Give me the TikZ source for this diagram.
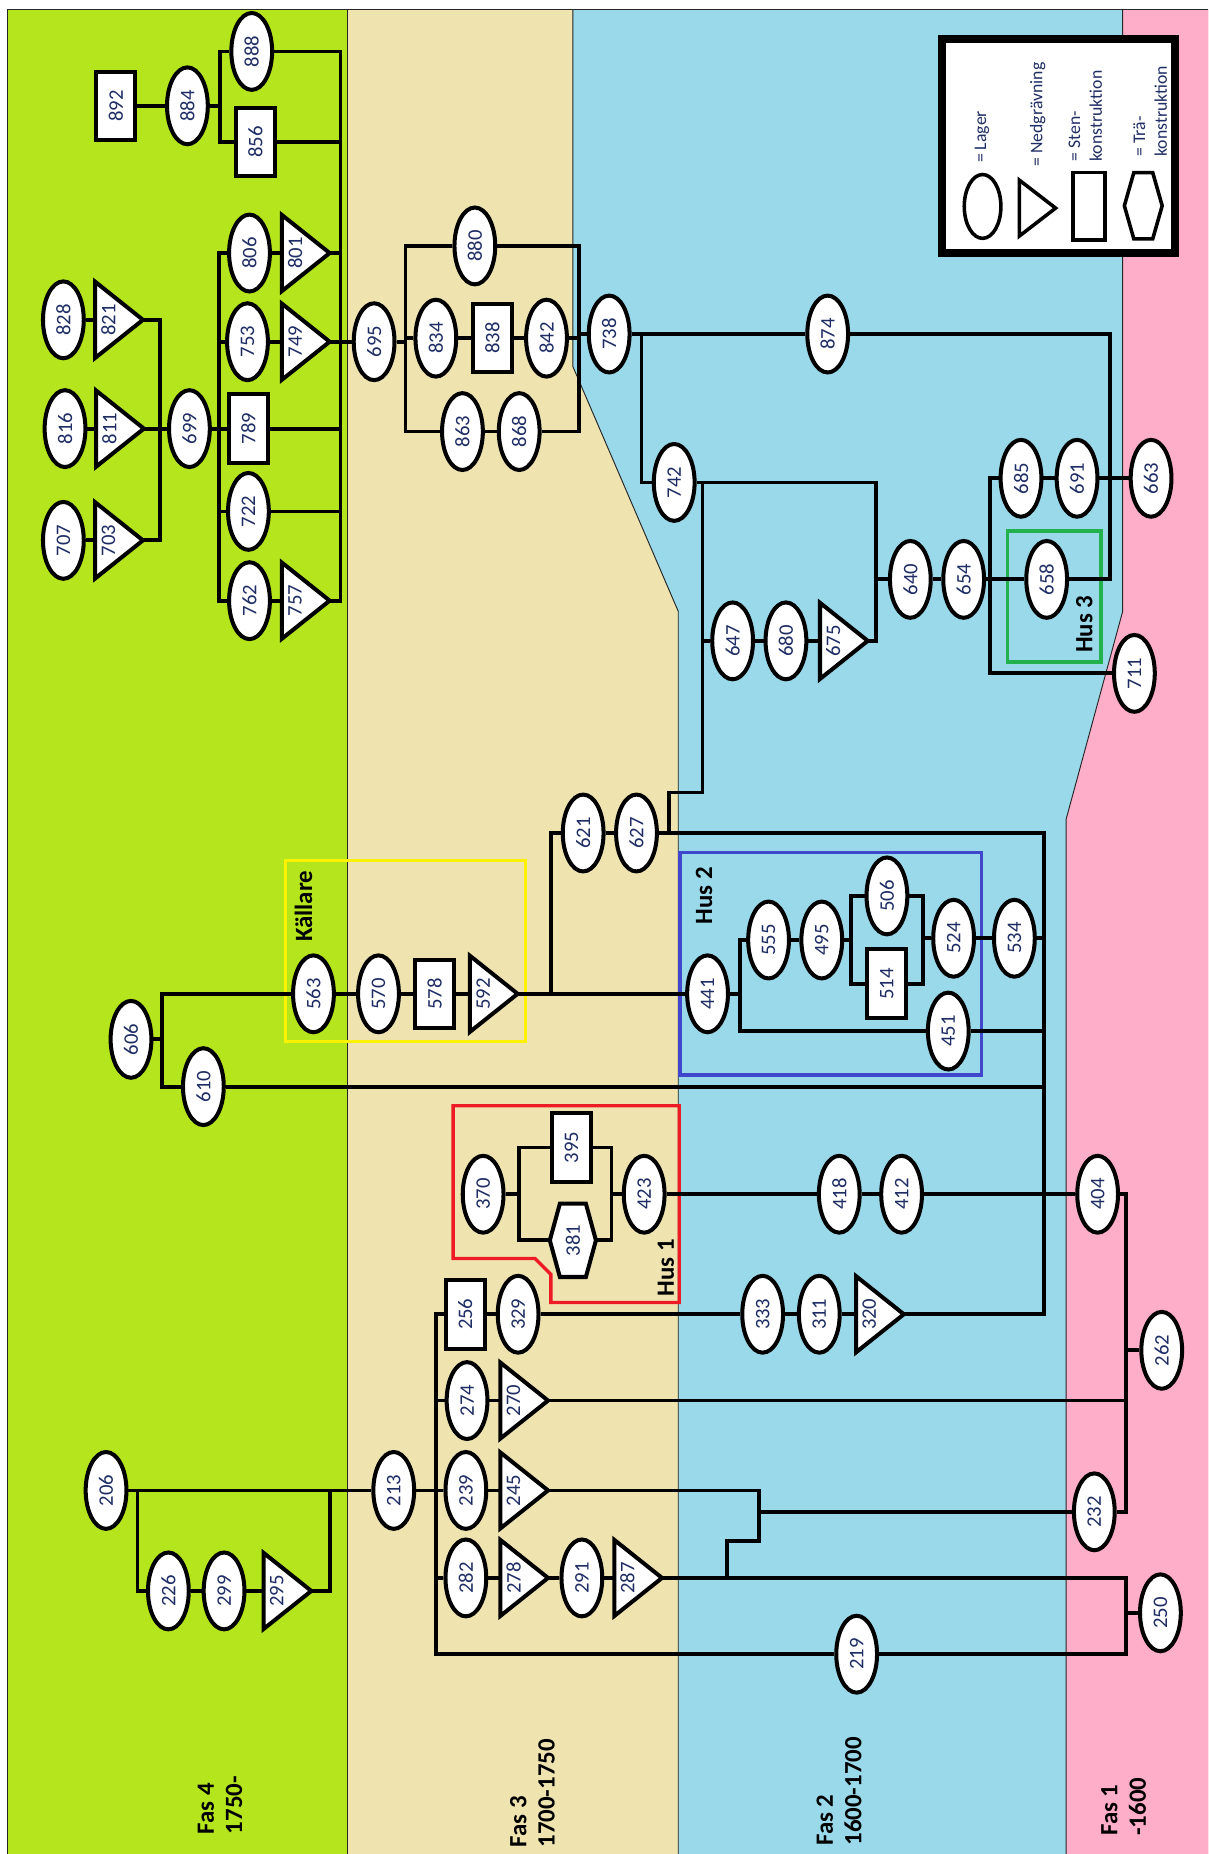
\documentclass[tikz,border=0pt]{standalone}
\usepackage{fontspec}
\usepackage{graphicx}
\setmainfont{Carlito}
\usetikzlibrary{shapes.geometric}

\definecolor{fasfyra}{HTML}{B5E61D}
\definecolor{fastre}{HTML}{EFE4B0}
\definecolor{fastva}{HTML}{99D9EA}
\definecolor{fasett}{HTML}{FFAEC9}
\definecolor{numink}{RGB}{30,45,100}
\definecolor{husgul}{HTML}{FFF200}
\definecolor{husrod}{HTML}{ED1C24}
\definecolor{husbla}{HTML}{3F48CC}
\definecolor{husgron}{HTML}{22B14C}

\pgfdeclarelayer{bands}
\pgfdeclarelayer{links}
\pgfsetlayers{bands,links,main}

\newcommand\numsize{\fontsize{17.5}{20}\selectfont}

\tikzset{
  shapeline/.style={draw=black, line width=3.4pt, fill=white, line join=miter},
  lager/.style={ellipse, shapeline, minimum width=34.5pt, minimum height=65pt,
    inner sep=0pt, text=numink, font=\numsize},
  sten/.style={rectangle, shapeline, minimum width=33pt, minimum height=58pt,
    inner sep=0pt, text=numink, font=\numsize},
  cutbox/.style={rectangle, draw=none, minimum width=40pt, minimum height=64pt, inner sep=0pt},
  woodbox/.style={rectangle, draw=none, minimum width=39pt, minimum height=62pt, inner sep=0pt},
  numtext/.style={inner sep=0pt, text=numink, font=\numsize},
  link/.style={draw=black, line width=3.2pt, line join=miter},
  edge/.style={draw=black!85, line width=0.8pt},
  housebox/.style={line width=2.8pt},
  huslabel/.style={inner sep=0pt, text=black, font=\bfseries\fontsize{21}{24}\selectfont},
  fastext/.style={inner sep=0pt, text=black, font=\bfseries\fontsize{21}{24}\selectfont},
  legtext/.style={inner sep=0pt, text=numink, font=\fontsize{15}{18.3}\selectfont},
}

% layer (ellipse), stone structure (rectangle), cut (triangle)
\newcommand\lagernode[3]{\node[lager] (n#1) at (#2,#3) {\rotatebox{90}{#1}};}
\newcommand\stennode[3]{\node[sten] (n#1) at (#2,#3) {\rotatebox{90}{#1}};}
\newcommand\cutnode[3]{%
  \node[cutbox] (t#1) at (#2+21.7,#3) {};
  \draw[shapeline] (t#1.north west) -- (t#1.east) -- (t#1.south west) -- cycle;
  \node[numtext] (l#1) at ([xshift=-9pt]t#1.center) {\rotatebox{90}{#1}};}

\begin{document}
\begin{tikzpicture}[x=1pt,y=-1pt]
\useasboundingbox (0,0) rectangle (1022,1568);

% ---------- phase bands ----------
\begin{pgfonlayer}{bands}
  \fill[white] (0,0) rectangle (1022,1568);
  \fill[fasfyra] (6,8) rectangle (293.8,1568);
  \fill[fastre] (293.8,8) -- (484.5,8) -- (484.5,310) -- (573.6,517) -- (573.6,1568) -- (293.8,1568) -- cycle;
  \fill[fastva] (484.5,8) -- (949.5,8) -- (949.5,517) -- (901.6,693) -- (901.6,1568)
     -- (573.6,1568) -- (573.6,517) -- (484.5,310) -- cycle;
  \fill[fasett] (949.5,8) -- (1022,8) -- (1022,1568) -- (901.6,1568) -- (901.6,693) -- (949.5,517) -- cycle;
  \draw[edge] (293.8,8) -- (293.8,1568);
  \draw[edge] (484.5,8) -- (484.5,310) -- (573.6,517) -- (573.6,1568);
  \draw[edge] (949.5,8) -- (949.5,517) -- (901.6,693) -- (901.6,1568);
  \draw[edge] (6,1568) -- (6,8) -- (1022,8);
  % house frames
  \draw[housebox, husgul] (241.7,727.6) rectangle (444.7,881);
  \draw[housebox, husbla] (575,721) rectangle (830.2,909.2);
  \draw[housebox, husrod] (383.2,935.1) -- (574.4,935.1) -- (574.4,1101.5) -- (465.9,1101.5)
     -- (465.9,1077.8) -- (452.4,1064.3) -- (383.2,1064.3) -- cycle;
  \draw[housebox, husgron] (852.2,449) rectangle (931.2,559.8);
\end{pgfonlayer}

% ---------- Fas 4, upper group ----------
\stennode{892}{97.9}{89.5}
\lagernode{884}{158.5}{89.5}
\lagernode{888}{212.9}{43.5}
\stennode{856}{216}{120}
\lagernode{806}{211}{214}
\cutnode{801}{236.9}{214}
\lagernode{753}{209.3}{289}
\cutnode{749}{236.9}{289}
\lagernode{695}{316.4}{289}
\lagernode{828}{53.6}{270.5}
\cutnode{821}{79}{270.5}
\lagernode{816}{55}{362.5}
\cutnode{811}{79.8}{362.5}
\lagernode{699}{160.2}{362.5}
\stennode{789}{210}{362.5}
\lagernode{722}{210.1}{432.5}
\lagernode{707}{53.6}{457}
\cutnode{703}{79}{457}
\lagernode{762}{211}{508}
\cutnode{757}{236.9}{508}
\coordinate (j884) at (186,89.5);
\coordinate (bus4t) at (288,43.5);
\coordinate (bus4b) at (288,508);
\coordinate (l4t) at (185,214);
\coordinate (l4b) at (185,508);
\coordinate (k4t) at (135,270.5);
\coordinate (k4b) at (135,457);

% ---------- Fas 3, upper group ----------
\lagernode{880}{401.6}{208}
\lagernode{834}{368.6}{286}
\stennode{838}{416.5}{286}
\lagernode{842}{462.2}{286}
\lagernode{738}{515.2}{282.5}
\lagernode{863}{391.1}{365}
\lagernode{868}{439.1}{365}
\coordinate (k3lt) at (343,208);
\coordinate (k3lb) at (343,365);
\coordinate (k3rt) at (490,208);
\coordinate (k3rb) at (490,365);

% ---------- Fas 2, upper group ----------
\lagernode{874}{700}{282.5}
\lagernode{742}{570.2}{408}
\lagernode{647}{619.6}{542}
\lagernode{680}{664.7}{542}
\cutnode{675}{692}{542}
\lagernode{640}{769.9}{490}
\lagernode{654}{815}{490}
\lagernode{685}{863.5}{404.5}
\lagernode{691}{910.9}{404.5}
\lagernode{663}{973.5}{404.5}
\lagernode{658}{885.2}{490}
\lagernode{711}{959.4}{569.5}
\coordinate (r874) at (939,282.5);
\coordinate (k738t) at (542.6,282.5);
\coordinate (k738b) at (542.6,408);
\coordinate (k675t) at (740.8,408);
\coordinate (j742) at (594.2,408);
\coordinate (j742b) at (594.2,670.3);
\coordinate (j627a) at (566,670.3);
\coordinate (j627b) at (566,704.5);
\coordinate (k654t) at (837.6,404.5);
\coordinate (k654b) at (837.6,569.5);

% ---------- cellar and Hus 2 ----------
\lagernode{621}{493.2}{704.5}
\lagernode{627}{538.3}{704.5}
\lagernode{606}{110.8}{879}
\lagernode{610}{172}{919}
\lagernode{563}{265.1}{840.5}
\lagernode{570}{320.1}{840.5}
\stennode{578}{367.5}{840.5}
\cutnode{592}{395.9}{840.5}
\lagernode{441}{598.4}{840.5}
\lagernode{555}{650}{795}
\lagernode{495}{695}{795}
\lagernode{506}{750.1}{757.7}
\stennode{514}{749.9}{832}
\lagernode{524}{806.5}{793.5}
\lagernode{534}{857.9}{793.5}
\lagernode{451}{802}{872}
\coordinate (k621t) at (466,704.5);
\coordinate (bus2t) at (883,704.5);
\coordinate (bus2b) at (883,1111.5);
\coordinate (k606t) at (136.8,840.5);
\coordinate (k606b) at (136.8,919);
\coordinate (k441t) at (626,795);
\coordinate (k441b) at (626,872);
\coordinate (k506lt) at (719.7,757.7);
\coordinate (k506lb) at (719.7,832);
\coordinate (k506rt) at (780.3,757.7);
\coordinate (k506rb) at (780.3,832);

% ---------- Hus 1 ----------
\lagernode{370}{408.6}{1010}
\stennode{395}{483.4}{970.5}
\node[woodbox] (n381) at (484.5,1049) {};
\draw[shapeline] ([shift={(-11,-31)}]n381.center) -- ([shift={(11,-31)}]n381.center)
  -- ([shift={(19.5,0)}]n381.center) -- ([shift={(11,31)}]n381.center)
  -- ([shift={(-11,31)}]n381.center) -- ([shift={(-19.5,0)}]n381.center) -- cycle;
\node[numtext] (l381) at (n381.center) {\rotatebox{90}{381}};
\lagernode{423}{544.8}{1010}
\lagernode{418}{709.8}{1010}
\lagernode{412}{762.5}{1010}
\lagernode{404}{928.3}{1010}
\lagernode{262}{982.5}{1142}
\lagernode{232}{925.5}{1278.6}
\coordinate (k370lt) at (439.1,970.5);
\coordinate (k370lb) at (439.1,1049);
\coordinate (k370rt) at (517.2,970.5);
\coordinate (k370rb) at (517.2,1049);
\coordinate (k404t) at (952.3,1010);

% ---------- lower groups ----------
\stennode{256}{393.4}{1111.5}
\lagernode{329}{438.2}{1111.5}
\lagernode{333}{645}{1111.5}
\lagernode{311}{692.9}{1111.5}
\cutnode{320}{722.5}{1111.5}
\lagernode{274}{395}{1184.5}
\cutnode{270}{421.6}{1184.5}
\lagernode{206}{89.7}{1260.5}
\lagernode{213}{333}{1260.5}
\lagernode{239}{394}{1260.5}
\cutnode{245}{421.6}{1260.5}
\lagernode{226}{142.4}{1345.5}
\lagernode{299}{189.5}{1345.5}
\cutnode{295}{221.4}{1345.5}
\lagernode{282}{394}{1334.5}
\cutnode{278}{421.6}{1334.5}
\lagernode{291}{492.1}{1334.5}
\cutnode{287}{518}{1334.5}
\lagernode{250}{981.4}{1364}
\lagernode{219}{724.5}{1399}
\coordinate (k256t) at (368.6,1111.5);
\coordinate (k256b) at (368.6,1399);
\coordinate (k245a) at (642,1260.5);
\coordinate (k232) at (642,1278.6);
\coordinate (k245b) at (642,1303);
\coordinate (k245c) at (614.8,1303);
\coordinate (k245d) at (614.8,1334.5);
\coordinate (k250t) at (952.3,1334.5);
\coordinate (k250b) at (952.3,1399);
\coordinate (k206t) at (116.2,1260.5);
\coordinate (k206b) at (116.2,1345.5);
\coordinate (k295t) at (279.2,1260.5);
\coordinate (k295b) at (279.2,1345.5);

% ---------- connectors ----------
\begin{pgfonlayer}{links}
  % Fas 4
  \draw[link] (n892) -- (n884) -- (j884);
  \draw[link] (n888.west) -| (j884) |- (n856.west);
  \draw[link] (n888) -- (bus4t) -- (bus4b) -- (t757);
  \draw[link] (n856) -- (n856 -| bus4t);
  \draw[link] (n806) -- (l4t) -- (l4b) -- (n762) -- (t757);
  \draw[link] (n806) -- (t801) -- (t801 -| bus4t);
  \draw[link] (n753 -| l4t) -- (n753) -- (t749) -- (n695);
  \draw[link] (n828) -- (t821) -- (k4t) -- (k4b) -- (t703) -- (n707);
  \draw[link] (n816) -- (t811) -- (n699) -- (n789) -- (n789 -| bus4t);
  \draw[link] (n722 -| l4t) -- (n722) -- (n722 -| bus4t);
  % Fas 3 upper
  \draw[link] (n695) -- (n695 -| k3lt);
  \draw[link] (n880) -- (k3lt) -- (k3lb) -- (n863) -- (n868) -- (k3rb) -- (k3rt) -- (n880);
  \draw[link] (n834 -| k3lt) -- (n834) -- (n838) -- (n842) -- (n842 -| k3rt);
  \draw[link] (n738 -| k3rt) -- (n738);
  % Fas 2 upper
  \draw[link] (n738) -- (n874) -- (r874) -- (r874 |- n658) -- (n658);
  \draw[link] (k738t) -- (k738b) -- (n742);
  \draw[link] (n742) -- (k675t) -- (k675t |- t675) -- (t675) -- (n680) -- (n647) -- (n647 -| j742);
  \draw[link] (j742) -- (j742b) -- (j627a) -- (j627b);
  \draw[link] (n640 -| k675t) -- (n640) -- (n654) -- (n658);
  \draw[link] (n685) -- (k654t) -- (k654b) -- (n711);
  \draw[link] (n685) -- (n691) -- (n663);
  % cellar and Hus 2
  \draw[link] (n441 -| k621t) -- (k621t) -- (n621) -- (n627) -- (bus2t) -- (bus2b) -- (t320);
  \draw[link] (n606) -- (n606 -| k606t);
  \draw[link] (n563) -- (k606t) -- (k606b) -- (n610) -- (n610 -| bus2t);
  \draw[link] (n563) -- (n570) -- (n578) -- (t592) -- (n441);
  \draw[link] (n441) -- (n441 -| k441t);
  \draw[link] (n555) -- (k441t) -- (k441b) -- (n451) -- (n451 -| bus2t);
  \draw[link] (n555) -- (n495) -- (n495 -| k506lt);
  \draw[link] (n506) -- (k506lt) -- (k506lb) -- (n514) -- (k506rb) -- (k506rt) -- (n506);
  \draw[link] (n524 -| k506rt) -- (n524) -- (n534) -- (n534 -| bus2t);
  % Hus 1
  \draw[link] (n370) -- (n370 -| k370lt);
  \draw[link] (n395) -- (k370lt) -- (k370lb) -- (n381) -- (k370rb) -- (k370rt) -- (n395);
  \draw[link] (n423 -| k370rt) -- (n423) -- (n418) -- (n412) -- (n404) -- (k404t) -- (k404t |- n232) -- (n232);
  \draw[link] (n262 -| k404t) -- (n262);
  % lower groups
  \draw[link] (n256) -- (k256t) -- (k256b) -- (n219) -- (k250b) -- (k250t) -- (t287) -- (n291)
     -- (t278) -- (n282) -- (n282 -| k256t);
  \draw[link] (n256) -- (n329) -- (n333) -- (n311) -- (t320);
  \draw[link] (n274 -| k256t) -- (n274) -- (t270) -- (t270 -| k404t);
  \draw[link] (n206) -- (n213) -- (n239) -- (t245) -- (k245a) -- (k245b) -- (k245c) -- (k245d);
  \draw[link] (k232) -- (n232);
  \draw[link] (n250 -| k250t) -- (n250);
  \draw[link] (n206) -- (k206t) -- (k206b) -- (n226) -- (n299) -- (t295) -- (k295b) -- (k295t);
\end{pgfonlayer}

% ---------- house labels ----------
\node[huslabel] (kallare) at (256.6,766.5) {\rotatebox{90}{Källare}};
\node[huslabel] (hus2) at (595.5,757.7) {\rotatebox{90}{Hus 2}};
\node[huslabel] (hus1) at (563.1,1072) {\rotatebox{90}{Hus 1}};
\node[huslabel] (hus3) at (917,528) {\rotatebox{90}{Hus 3}};

% ---------- phase labels ----------
\node[fastext, anchor=south] (fas4) at (188,1551.4)
  {\rotatebox{90}{\begin{tabular}{@{}l@{}}Fas 4\\1750-\end{tabular}}};
\node[fastext, anchor=south] (fas3) at (452.3,1562.6)
  {\rotatebox{90}{\begin{tabular}{@{}l@{}}Fas 3\\1700-1750\end{tabular}}};
\node[fastext, anchor=south] (fas2) at (711.6,1561)
  {\rotatebox{90}{\begin{tabular}{@{}l@{}}Fas 2\\1600-1700\end{tabular}}};
\node[fastext, anchor=south] (fas1) at (952.2,1552.7)
  {\rotatebox{90}{\begin{tabular}{@{}l@{}}Fas 1\\-1600\end{tabular}}};

% ---------- legend ----------
\node[draw=black, line width=7pt, fill=white, minimum width=197.5pt, minimum height=181.2pt,
      inner sep=0pt] (legend) at (895.25,123.6) {};
\node[ellipse, draw=black, line width=3pt, fill=white, minimum width=31pt, minimum height=54pt,
      inner sep=0pt] (keyLager) at (831,174.6) {};
\node[inner sep=0pt, minimum width=30.3pt, minimum height=47pt] (keyCut) at (877.4,176) {};
\draw[black, line width=3pt, fill=white, line join=miter]
  (keyCut.north west) -- (keyCut.east) -- (keyCut.south west) -- cycle;
\node[draw=black, line width=3pt, fill=white, minimum width=27.5pt, minimum height=57pt,
      inner sep=0pt] (keySten) at (921,174.5) {};
\node[inner sep=0pt, minimum width=32pt, minimum height=56pt] (keyTra) at (966.9,174) {};
\draw[black, line width=3pt, fill=white, line join=miter]
  ([shift={(-8,-28)}]keyTra.center) -- ([shift={(8,-28)}]keyTra.center)
  -- ([shift={(16,0)}]keyTra.center) -- ([shift={(8,28)}]keyTra.center)
  -- ([shift={(-8,28)}]keyTra.center) -- ([shift={(-16,0)}]keyTra.center) -- cycle;
\node[legtext, anchor=south] (keyLagerTxt) at (830.4,138) {\rotatebox{90}{= Lager}};
\node[legtext, anchor=south] (keyCutTxt) at (877.6,141) {\rotatebox{90}{= Nedgrävning}};
\node[legtext, anchor=south] (keyStenTxt) at (919,136.8)
  {\rotatebox{90}{\begin{tabular}{@{}l@{}}= Sten-\\konstruktion\end{tabular}}};
\node[legtext, anchor=south] (keyTraTxt) at (974,132.6)
  {\rotatebox{90}{\begin{tabular}{@{}l@{}}= Trä-\\konstruktion\end{tabular}}};
\end{tikzpicture}
\end{document}
